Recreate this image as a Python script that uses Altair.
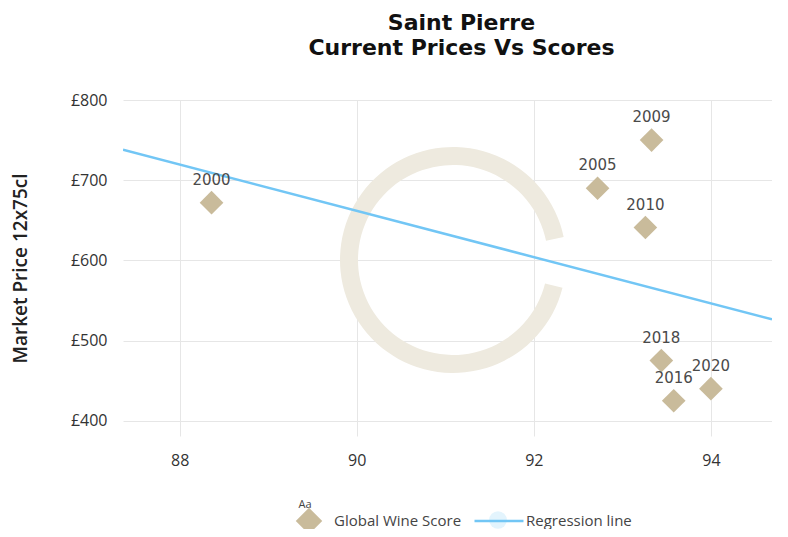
import altair as alt
import pandas as pd

# ---- data ----
vintages = ["2000", "2005", "2009", "2010", "2018", "2016", "2020"]
scores = [88.36, 92.72, 93.33, 93.26, 93.44, 93.58, 94.0]
prices = [672, 690, 750, 641, 475, 425, 440]
x_ticks = [88, 90, 92, 94]
y_ticks = [400, 500, 600, 700, 800]
point_series = ["Global Wine Score"]
line_series = ["Regression line"]
point_color = "#c9bb9b"
line_color = "#72c6f5"

x_domain = [87.36, 94.69]
y_domain = [381, 800]

df = pd.DataFrame({"vintage": vintages, "score": scores, "price": prices,
                   "series": point_series * len(vintages)})

FONT = "Open Sans"
LABEL_COLOR = "#333333"

x_enc = alt.X("score:Q",
              scale=alt.Scale(domain=x_domain, nice=False, zero=False),
              axis=alt.Axis(values=x_ticks, title=None, grid=True, ticks=False,
                            domain=False, labelPadding=16, labelFontSize=16,
                            labelFont=FONT, labelColor=LABEL_COLOR,
                            gridColor="#e6e6e6"))
y_enc = alt.Y("price:Q",
              scale=alt.Scale(domain=y_domain, nice=False, zero=False),
              axis=alt.Axis(values=y_ticks, title="Market Price 12x75cl",
                            grid=True, ticks=False, domain=False,
                            labelExpr="'£' + datum.value", labelPadding=16,
                            labelFontSize=16, labelFont=FONT,
                            labelColor=LABEL_COLOR, titleFont=FONT,
                            titleFontSize=19, titleFontWeight=600,
                            titleColor="#222222", titlePadding=40,
                            gridColor="#e6e6e6"))

point_legend = alt.Legend(title=None, orient="none", legendX=172, legendY=407,
                          labelFont=FONT, labelFontSize=15, labelColor="#444444",
                          labelOffset=11, symbolSize=700, symbolType="diamond")
line_legend = alt.Legend(title=None, orient="none", legendX=350, legendY=395,
                         labelFont=FONT, labelFontSize=15, labelColor="#444444",
                         labelOffset=1, symbolSize=2400, symbolType="stroke",
                         symbolStrokeWidth=2.5)

# watermark ring (decoration)
ring = alt.Chart(pd.DataFrame({"k": [0]})).mark_arc(
    radius=113, radius2=95, theta=1.82, theta2=7.65, color="#eeeadf"
).encode(x=alt.value(330), y=alt.value(160))

# pale halo behind the legend line symbol (decoration)
halo = alt.Chart(pd.DataFrame({"k": [0]})).mark_point(
    shape="circle", filled=True, size=314, color="#e3f4fd", opacity=1
).encode(x=alt.value(375), y=alt.value(420))

base = alt.Chart(df)

reg = base.transform_regression(
    "score", "price", extent=x_domain
).transform_calculate(series="'Regression line'").mark_line(
    strokeWidth=2.5, clip=True
).encode(x=x_enc, y=y_enc,
         color=alt.Color("series:N",
                         scale=alt.Scale(domain=line_series, range=[line_color]),
                         legend=line_legend))

pts = base.mark_point(filled=True, opacity=1, size=560, shape="diamond").encode(
    x=x_enc, y=y_enc,
    color=alt.Color("series:N",
                    scale=alt.Scale(domain=point_series, range=[point_color]),
                    legend=point_legend))

labels = base.mark_text(dy=-23, font="DejaVu Sans", fontSize=15,
                        color="#4a4a4a").encode(x=x_enc, y=y_enc, text="vintage:N")

aa = alt.Chart(pd.DataFrame({"t": ["Aa"]})).mark_text(
    font=FONT, fontSize=11, color="#444444"
).encode(x=alt.value(182), y=alt.value(405), text="t:N")

chart = alt.layer(ring, halo, reg, pts, labels, aa).resolve_scale(
    color="independent"
).properties(
    width=649, height=336,
    autosize=alt.AutoSizeParams(type="none"),
    padding={"left": 115, "top": 92, "right": 0, "bottom": 93},
    title=alt.TitleParams(text=["Saint Pierre", "Current Prices Vs Scores"],
                          font="DejaVu Sans", fontSize=22, fontWeight="bold",
                          color="#111111", anchor="middle", dx=14,
                          offset=32, lineHeight=25),
).configure_view(stroke=None)

chart.save("out.html", embed_options={"renderer": "svg", "actions": False})
